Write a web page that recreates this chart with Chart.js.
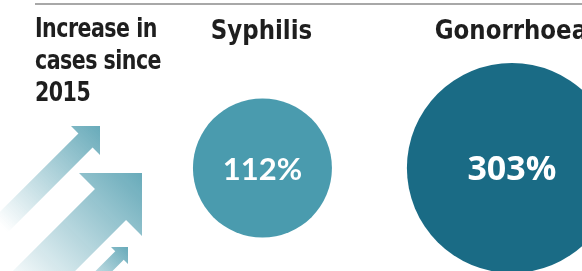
<!DOCTYPE html>
<html>
<head>
<meta charset="utf-8">
<script src="https://cdn.jsdelivr.net/npm/chart.js@4"></script>
<style>
  html, body { margin: 0; padding: 0; background: #fff; }
  #wrap { position: relative; width: 582px; height: 271px; overflow: hidden; }
  #rule { position: absolute; left: 35px; top: 3px; width: 547px; height: 2px; background: #a8a8a8; }
  #title {
    position: absolute; left: 35px; top: 12px; width: 190px;
    font-family: "DejaVu Sans Condensed", sans-serif;
    font-weight: bold; font-size: 26px; line-height: 32px; color: #1e1e1e;
    letter-spacing: -0.6px;
    transform: scaleX(0.88); transform-origin: 0 0;
  }
  canvas { position: absolute; left: 0; top: 0; }
</style>
</head>
<body>
<div id="wrap">
  <canvas id="chart" width="582" height="271"></canvas>
  <div id="rule"></div>
  <div id="title">Increase in<br>cases since<br>2015</div>
</div>
<script>
const categories = ["Syphilis", "Gonorrhoea"];
const increases = [112, 303];
const radii = [69.5, 105];
const colors = ["#4a9bae", "#1a6b85"];

// decorative arrows: corner x, corner y, head size, shaft width, tail length
const arrows = [
  [100, 126, 29, 20, 120],
  [142, 173, 63, 44, 130],
  [128, 247, 17, 12, 60]
];

const arrowPlugin = {
  id: "arrows",
  beforeDatasetsDraw(chart) {
    const ctx = chart.ctx;
    const s = Math.SQRT1_2;
    arrows.forEach(([tx, ty, h, w, L]) => {
      const mx = tx - h / 2, my = ty + h / 2;
      const px = s * w / 2, py = s * w / 2;
      const dx = -s * L, dy = s * L;
      const g = ctx.createLinearGradient(tx, ty, mx + dx, my + dy);
      g.addColorStop(0, "rgba(96,166,182,0.95)");
      g.addColorStop(1, "rgba(96,166,182,0)");
      ctx.save();
      ctx.fillStyle = g;
      ctx.beginPath();
      ctx.moveTo(tx, ty);
      ctx.lineTo(tx, ty + h);
      ctx.lineTo(mx + px, my + py);
      ctx.lineTo(mx + px + dx, my + py + dy);
      ctx.lineTo(mx - px + dx, my - py + dy);
      ctx.lineTo(mx - px, my - py);
      ctx.lineTo(tx - h, ty);
      ctx.closePath();
      ctx.fill();
      ctx.restore();
    });
  }
};

const labelPlugin = {
  id: "labels",
  afterDatasetsDraw(chart) {
    const ctx = chart.ctx;
    const meta = chart.getDatasetMeta(0);
    meta.data.forEach((el, i) => {
      ctx.save();
      ctx.textAlign = "center";
      ctx.translate(el.x, 0);
      ctx.save();
      ctx.scale(0.98, 1);
      ctx.fillStyle = "#1e1e1e";
      ctx.font = 'bold 26px "DejaVu Sans Condensed", sans-serif';
      ctx.textBaseline = "alphabetic";
      ctx.fillText(categories[i], -1, 39);
      ctx.restore();
      ctx.fillStyle = "#ffffff";
      ctx.font = i === 0 ? 'bold 31px "Lato", sans-serif' : 'bold 34px "Open Sans", sans-serif';
      ctx.textBaseline = "middle";
      ctx.fillText(increases[i] + "%", 0, el.y + 2);
      ctx.restore();
    });
  }
};

new Chart(document.getElementById("chart"), {
  type: "bubble",
  data: {
    datasets: [{
      data: increases.map((v, i) => ({ x: i, y: 0, r: radii[i] })),
      backgroundColor: colors,
      borderWidth: 0,
      hoverBorderWidth: 0,
      clip: false
    }]
  },
  options: {
    responsive: false,
    animation: false,
    events: [],
    layout: { padding: 0, autoPadding: false },
    plugins: { legend: { display: false }, tooltip: { enabled: false } },
    scales: {
      x: { type: "linear", display: false, min: -1.052, max: 1.281 },
      y: { type: "linear", display: false, min: -1, max: 1.631 }
    }
  },
  plugins: [arrowPlugin, labelPlugin]
});
</script>
</body>
</html>
